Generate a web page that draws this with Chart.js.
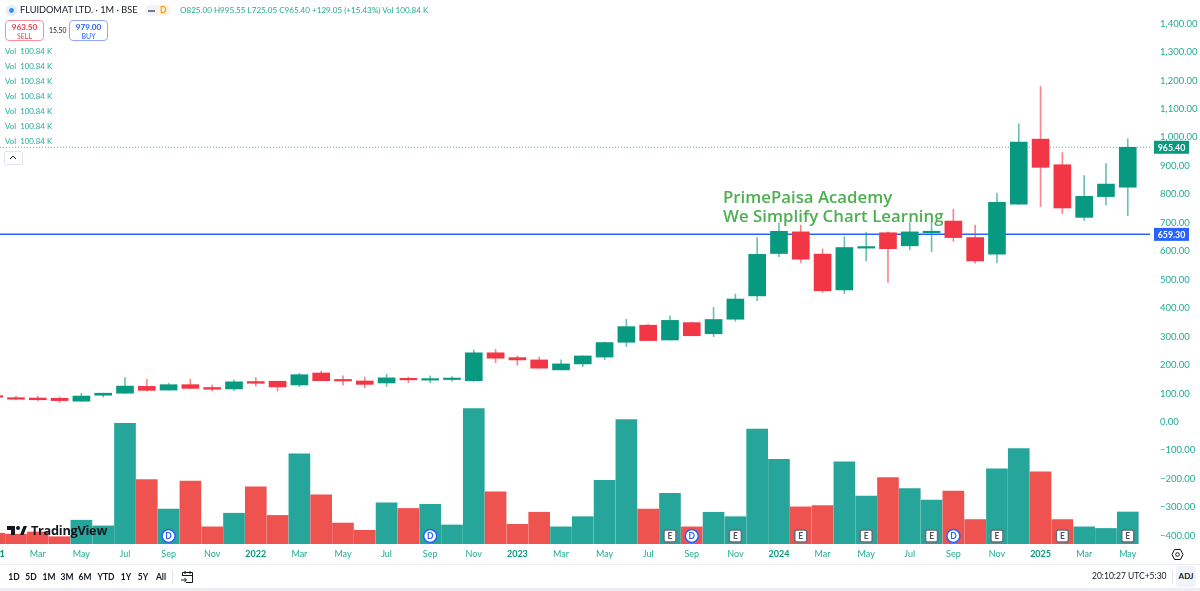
<!DOCTYPE html>
<html>
<head>
<meta charset="utf-8">
<title>FLUIDOMAT LTD. 1M</title>
<script src="https://cdn.jsdelivr.net/npm/chart.js@4"></script>
<style>
  html, body { margin: 0; padding: 0; background: #fff; }
  body { width: 1200px; height: 591px; position: relative; overflow: hidden; font-family: Lato, sans-serif; color: #131722; }
  canvas { position: absolute; left: 0; top: 0; }
  .abs { position: absolute; white-space: nowrap; line-height: 1; }
  .teal { color: #22ab94; }
  .trade { position: absolute; top: 20px; height: 19px; border-radius: 4px; border: 1px solid; text-align: center; box-sizing: content-box; }
  .trade b { display: block; font-weight: 700; font-size: 8.2px; line-height: 10px; margin-top: 1px; }
  .trade span { display: block; font-size: 7px; line-height: 8px; }
  .range { position: absolute; top: 572px; font-size: 8.5px; line-height: 10px; transform: translateX(-50%); font-weight: 700; color: #131722; }
</style>
</head>
<body>
<canvas id="chart" width="1200" height="591"></canvas>

<svg class="abs" style="left:5px;top:4px" width="13" height="13"><circle cx="6.5" cy="6.5" r="6" fill="#e3effd"/><circle cx="6.5" cy="6.5" r="2.4" fill="#2e8ff0"/></svg>
<div class="abs" style="left:20px;top:5px;font-size:9.2px;">FLUIDOMAT LTD. · 1M · BSE</div>
<div class="abs" style="left:145px;top:5px;width:25px;height:11px;border-radius:6px;background:#f0f3fa"></div>
<div class="abs" style="left:158px;top:5px;width:12px;height:11px;border-radius:0 6px 6px 0;background:#fff3e0"></div>
<div class="abs" style="left:148px;top:9.5px;width:7px;height:2px;background:#787b86"></div>
<div class="abs" style="left:160px;top:6px;font-size:8.5px;font-weight:700;color:#ff9800;">D</div>
<div class="abs teal" id="ohlc" style="left:180px;top:6px;font-size:8.1px;"></div>

<div class="trade" style="left:5px;width:37px;border-color:#f7919a;color:#f23645"><b>963.50</b><span>SELL</span></div>
<div class="abs" style="left:49px;top:27px;font-size:6.8px;">15.50</div>
<div class="trade" style="left:69px;width:37px;border-color:#8fa9fb;color:#2962ff"><b>979.00</b><span>BUY</span></div>

<div id="volRows"></div>
<div class="abs" style="left:4px;top:151px;width:17px;height:12px;border:1px solid #e0e3eb;border-radius:2px;"></div>
<svg class="abs" style="left:9px;top:155px" width="8" height="5"><path d="M1 4 L4 1 L7 4" fill="none" stroke="#131722" stroke-width="1"/></svg>

<svg class="abs" style="left:7px;top:526px" width="20" height="10"><path d="M0 0H8V9H4V4H0ZM13 9L16.5 0H20L16.5 9Z" fill="#131722"/><circle cx="11" cy="2" r="2" fill="#131722"/></svg>
<div class="abs" style="left:31px;top:524px;font-family:'Open Sans';font-size:12.8px;font-weight:700;letter-spacing:-.3px;color:#131722;">TradingView</div>

<div class="abs" style="left:723px;top:189px;font-family:'Open Sans';font-size:16.8px;font-weight:600;color:#4caf50;">PrimePaisa Academy</div>
<div class="abs" style="left:723px;top:208px;font-family:'Open Sans';font-size:16.8px;font-weight:600;color:#4caf50;letter-spacing:.05px;">We Simplify Chart Learning</div>

<svg class="abs" style="left:1171px;top:548px" width="13" height="13"><path d="M3.5 1.5H9.5L12 6.5L9.5 11.5H3.5L1 6.5Z" fill="none" stroke="#131722"/><circle cx="6.5" cy="6.5" r="1.8" fill="none" stroke="#131722"/></svg>

<div class="abs" style="left:0;top:564px;width:1200px;height:1px;background:#e9ecf2"></div>
<div id="ranges"></div>
<div class="abs" style="left:172px;top:570px;width:1px;height:14px;background:#e0e3eb"></div>
<svg class="abs" style="left:181px;top:570px" width="13" height="14"><path d="M1.5 6V2.5H11.5V12.5H5M1.5 5.5H11.5M4 1V4M9 1V4M0 10H5M3.5 8L5.5 10L3.5 12" fill="none" stroke="#131722"/></svg>
<div class="abs" style="left:1092px;top:572px;font-size:8.5px;">20:10:27 UTC+5:30</div>
<div class="abs" style="left:1172px;top:570px;width:1px;height:14px;background:#e0e3eb"></div>
<div class="abs" style="left:1176px;top:566px;width:20px;height:21px;background:#f0f3fa;border-radius:3px;font-size:8px;line-height:21px;text-align:center;font-weight:700;">ADJ</div>
<div class="abs" style="left:0;top:588px;width:1200px;height:3px;background:#eceef1"></div>

<script>
// monthly bars, Jan 2021 to May 2025
const months = [
  "2021", "Feb", "Mar", "Apr", "May", "Jun", "Jul", "Aug", "Sep", "Oct", "Nov", "Dec",
  "2022", "Feb", "Mar", "Apr", "May", "Jun", "Jul", "Aug", "Sep", "Oct", "Nov", "Dec",
  "2023", "Feb", "Mar", "Apr", "May", "Jun", "Jul", "Aug", "Sep", "Oct", "Nov", "Dec",
  "2024", "Feb", "Mar", "Apr", "May", "Jun", "Jul", "Aug", "Sep", "Oct", "Nov", "Dec",
  "2025", "Feb", "Mar", "Apr", "May",
];
const opens = [
  90, 85, 84, 83, 73, 94, 101, 125, 112, 131, 121, 116,
  142, 143, 130, 172, 148, 144, 137, 153, 147, 149, 145, 243,
  226, 218, 183, 204, 228, 280, 340, 288, 349, 310, 361, 443,
  592, 668, 590, 464, 611, 665, 619, 665, 706, 648, 590, 765,
  994, 904, 719, 792, 825,
];
const highs = [
  92, 91, 91, 88, 101, 101, 156, 150, 136, 150, 130, 148,
  156, 143, 171, 179, 162, 158, 168, 158, 162, 159, 253, 255,
  232, 228, 218, 232, 281, 361, 344, 373, 351, 403, 450, 648,
  700, 692, 608, 651, 667, 668, 700, 703, 748, 692, 804, 1048,
  1179, 947, 866, 908, 995.55,
];
const lows = [
  84, 77, 74, 68, 72, 88, 101, 109, 112, 116, 109, 110,
  126, 109, 124, 145, 129, 120, 125, 138, 138, 143, 142, 208,
  199, 189, 183, 194, 219, 265, 286, 288, 303, 300, 354, 426,
  581, 560, 455, 451, 566, 490, 605, 599, 635, 558, 559, 765,
  757, 732, 708, 763, 725.05,
];
const closes = [
  87, 80, 78, 75, 91, 101, 126, 111, 131, 118, 115, 141,
  136, 123, 166, 145, 144, 132, 155, 148, 150, 151, 243, 224,
  218, 189, 204, 232, 279, 335, 286, 357, 303, 360, 432, 589,
  670, 572, 461, 613, 614, 609, 668, 670, 648, 566, 772, 984,
  895, 752, 793, 836, 965.40,
];
// volume in thousands
const volumes = [
  34, 31, 38, 23, 75, 57, 380, 203, 110, 198, 54, 97,
  180, 90, 284, 155, 66, 43, 130, 112, 125, 60, 427, 164,
  62, 100, 54, 86, 201, 392, 110, 160, 54, 100, 86, 362,
  267, 117, 121, 259, 151, 209, 175, 138, 167, 77, 237, 301,
  227, 77, 54, 49, 100.84,
];
const priceTicks = [
  -400, -300, -200, -100, 0, 100, 200, 300, 400, 500, 600, 700,
  800, 900, 1000, 1100, 1200, 1300, 1400,
];
const monthTicks = [
  2, 4, 6, 8, 10, 12, 14, 16, 18, 20, 22, 24, 26, 28, 30, 32, 34, 36,
  38, 40, 42, 44, 46, 48, 50, 52,
];
const dividendBars = [8, 20, 32, 44];
const earningsBars = [31, 34, 37, 40, 43, 46, 49, 52];
const lastPrice = 965.40;
const levelPrice = 659.30;
const rangeButtons = ["1D", "5D", "1M", "3M", "6M", "YTD", "1Y", "5Y", "All"];
const rangeButtonX = [14, 31, 49, 67, 85, 106, 126, 143, 161];

const GREEN = "#089981";
const RED = "#f23645";
const TEAL_TEXT = "#22ab94";
const BLUE = "#2962ff";

// axis windows picked so the pixels line up with the screenshot
const xMin = 0.266;
const xMax = 53.02;
const priceMin = -429;
const priceMax = 1483;
const volumeMax = 1714;

document.getElementById("ohlc").innerText =
  "O825.00  H995.55  L725.05  C965.40  +129.05 (+15.43%)  Vol 100.84 K";

document.getElementById("volRows").innerHTML = [0, 1, 2, 3, 4, 5, 6]
  .map((row) => `<div class="abs teal" style="left:5px;top:${48 + row * 15}px;font-size:7.9px;">Vol&nbsp; 100.84 K</div>`)
  .join("");

document.getElementById("ranges").innerHTML = rangeButtons
  .map((label, i) => `<div class="range" style="left:${rangeButtonX[i]}px">${label}</div>`)
  .join("");

const isUp = closes.map((close, i) => close >= opens[i]);
const xy = (values) => values.map((y, x) => ({ x, y }));
const isYear = (c) => c.tick && /^\d/.test(months[c.tick.value]);
const formatPrice = (v) =>
  (v < 0 ? "\u2212" : "") +
  Math.abs(v).toLocaleString("en-US", { minimumFractionDigits: 2, maximumFractionDigits: 2 });

const drawFlag = (ctx, chart, value, color) => {
  const y = chart.scales.y.getPixelForValue(value);
  ctx.fillStyle = color;
  ctx.fillRect(1154, y - 6.5, 35, 13);
  ctx.fillStyle = "#fff";
  ctx.font = "700 8.8px Lato";
  ctx.textAlign = "center";
  ctx.textBaseline = "middle";
  ctx.fillText(formatPrice(value), 1171.5, y + 0.5);
};

const drawMarker = (ctx, x, letter) => {
  const y = 536;
  ctx.beginPath();
  if (letter === "D") {
    ctx.arc(x, y, 6.5, 0, Math.PI * 2);
  } else {
    ctx.roundRect(x - 6, y - 6, 12, 12, 2);
  }
  ctx.fillStyle = "#fff";
  ctx.fill();
  ctx.lineWidth = 1.5;
  ctx.strokeStyle = letter === "D" ? BLUE : "#6a6d78";
  ctx.stroke();
  ctx.fillStyle = letter === "D" ? BLUE : "#50535e";
  ctx.font = "700 8.5px Lato";
  ctx.textAlign = "center";
  ctx.textBaseline = "middle";
  ctx.fillText(letter, x, y + 0.5);
};

const overlayPlugin = {
  id: "overlay",
  afterDraw(chart) {
    const { ctx, scales } = chart;
    ctx.save();
    dividendBars.forEach((i) => drawMarker(ctx, scales.x.getPixelForValue(i), "D"));
    earningsBars.forEach((i) => drawMarker(ctx, scales.x.getPixelForValue(i), "E"));
    drawFlag(ctx, chart, lastPrice, GREEN);
    drawFlag(ctx, chart, levelPrice, BLUE);
    // first year label hangs off the left edge, the scale would drop it
    ctx.fillStyle = GREEN;
    ctx.font = "700 9.2px Lato";
    ctx.textAlign = "center";
    ctx.textBaseline = "middle";
    ctx.fillText(months[0], scales.x.getPixelForValue(0), 554);
    ctx.restore();
  },
};

new Chart(document.getElementById("chart"), {
  type: "bar",
  data: {
    datasets: [
      {
        type: "line",
        data: [{ x: xMin, y: levelPrice }, { x: xMax, y: levelPrice }],
        borderColor: BLUE,
        borderWidth: 1.5,
        pointRadius: 0,
        order: 4,
      },
      {
        type: "line",
        data: [{ x: xMin, y: lastPrice }, { x: xMax, y: lastPrice }],
        borderColor: "rgba(8,153,129,.7)",
        borderWidth: 1,
        borderDash: [1, 2],
        pointRadius: 0,
        order: 4,
      },
      {
        data: xy(volumes),
        yAxisID: "volume",
        backgroundColor: isUp.map((up) => (up ? "#26a69a" : "#ef5350")),
        barThickness: 21,
        order: 5,
      },
      {
        data: xy(lows.map((low, i) => [low, highs[i]])),
        backgroundColor: isUp.map((up) => (up ? "rgba(8,153,129,.6)" : "rgba(242,54,69,.6)")),
        barThickness: 1,
        order: 3,
      },
      {
        data: xy(opens.map((open, i) => [open, closes[i]])),
        backgroundColor: isUp.map((up) => (up ? GREEN : RED)),
        barThickness: 17,
        minBarLength: 1.5,
        order: 2,
      },
    ],
  },
  options: {
    responsive: false,
    animation: false,
    devicePixelRatio: 1,
    datasets: { bar: { grouped: false } },
    layout: { padding: 0 },
    plugins: { legend: { display: false }, tooltip: { enabled: false } },
    scales: {
      x: {
        type: "linear",
        offset: false,
        min: xMin,
        max: xMax,
        grid: { display: false, drawTicks: false },
        border: { display: false },
        afterBuildTicks: (scale) => {
          scale.ticks = monthTicks.map((value) => ({ value }));
        },
        afterFit: (scale) => {
          scale.height = 47;
          scale.paddingLeft = 0;
          scale.paddingRight = 0;
        },
        ticks: {
          autoSkip: false,
          maxRotation: 0,
          padding: 5,
          callback: (value) => months[value],
          color: (c) => (isYear(c) ? GREEN : TEAL_TEXT),
          font: (c) => ({
            family: "Lato",
            size: 9,
            weight: isYear(c) ? "700" : "400",
          }),
        },
      },
      y: {
        position: "right",
        min: priceMin,
        max: priceMax,
        grid: { display: false, drawTicks: false },
        border: { display: false },
        afterBuildTicks: (scale) => {
          scale.ticks = priceTicks.map((value) => ({ value }));
        },
        afterFit: (scale) => {
          scale.width = 50;
          scale.paddingTop = 0;
          scale.paddingBottom = 0;
        },
        ticks: {
          crossAlign: "near",
          padding: 10,
          color: TEAL_TEXT,
          font: { family: "Lato", size: 9.5 },
          callback: (value) => formatPrice(value),
        },
      },
      volume: {
        display: false,
        min: 0,
        max: volumeMax,
      },
    },
  },
  plugins: [overlayPlugin],
});
</script>
</body>
</html>
